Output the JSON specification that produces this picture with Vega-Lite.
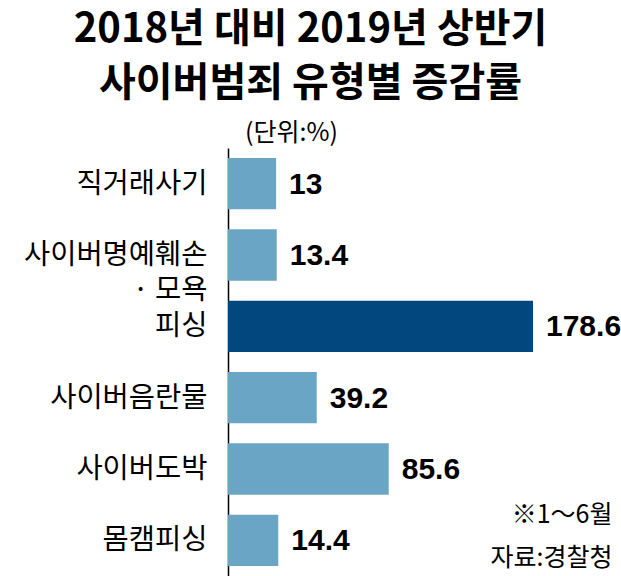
{
  "$schema": "https://vega.github.io/schema/vega-lite/v6.json",
  "width": 305,
  "height": 428,
  "autosize": {"type": "none"},
  "padding": {"left": 228, "top": 148, "right": 88, "bottom": 0},
  "background": "white",
  "config": {"view": {"stroke": null}, "font": "Noto Sans CJK KR"},
  "title": {
    "text": ["2018년 대비 2019년 상반기", "사이버범죄 유형별 증감률"],
    "fontSize": 40,
    "fontWeight": "bold",
    "lineHeight": 54,
    "anchor": "middle",
    "frame": "group",
    "dx": -70,
    "offset": 16,
    "font": "Noto Sans CJK KR",
    "color": "black"
  },
  "data": {
    "values": [
      {"category": "직거래사기", "value": 13, "group": "기타"},
      {"category": "사이버명예훼손|· 모욕", "value": 13.4, "group": "기타"},
      {"category": "피싱", "value": 178.6, "group": "피싱"},
      {"category": "사이버음란물", "value": 39.2, "group": "기타"},
      {"category": "사이버도박", "value": 85.6, "group": "기타"},
      {"category": "몸캠피싱", "value": 14.4, "group": "기타"}
    ]
  },
  "encoding": {
    "y": {
      "field": "category",
      "type": "nominal",
      "sort": null,
      "scale": {"paddingInner": 0.28, "paddingOuter": 0.14},
      "axis": {
        "domain": true,
        "domainColor": "black",
        "domainWidth": 1.5,
        "ticks": false,
        "grid": false,
        "labelPadding": 21,
        "labelFontSize": 28.5,
        "labelLimit": 0,
        "labelColor": "black",
        "labelFont": "Noto Sans CJK KR",
        "labelExpr": "split(datum.label, '|')",
        "labelLineHeight": 35,
        "title": "(단위:%)",
        "titleAngle": 0,
        "titleX": 63,
        "titleY": -16,
        "titleAlign": "center",
        "titleBaseline": "middle",
        "titleFontSize": 25,
        "titleFontWeight": "normal",
        "titleColor": "black",
        "titleFont": "Noto Sans CJK KR"
      }
    }
  },
  "layer": [
    {
      "mark": {"type": "bar"},
      "encoding": {
        "x": {
          "field": "value",
          "type": "quantitative",
          "scale": {"domain": [-18, 178.6], "nice": false, "zero": false},
          "axis": {
            "domain": false,
            "ticks": false,
            "labels": false,
            "grid": false,
            "title": ["※1～6월", "자료:경찰청"],
            "titleAlign": "right",
            "titleX": 384,
            "titleY": -54,
            "titleBaseline": "alphabetic",
            "titleLineHeight": 43,
            "titleFontSize": 25,
            "titleFontWeight": "normal",
            "titleColor": "black",
            "titleFont": "Noto Sans CJK KR",
            "titleLimit": 0
          }
        },
        "x2": {"datum": -18},
        "color": {
          "field": "group",
          "type": "nominal",
          "scale": {"domain": ["기타", "피싱"], "range": ["#6BA5C5", "#03477F"]},
          "legend": null
        }
      }
    },
    {
      "mark": {
        "type": "text",
        "align": "left",
        "baseline": "middle",
        "dx": 13,
        "dy": 1,
        "font": "Liberation Sans",
        "fontSize": 30,
        "fontWeight": "bold",
        "color": "black"
      },
      "encoding": {
        "x": {"field": "value", "type": "quantitative"},
        "text": {"field": "value", "type": "quantitative", "format": ".1~f"}
      }
    }
  ]
}
